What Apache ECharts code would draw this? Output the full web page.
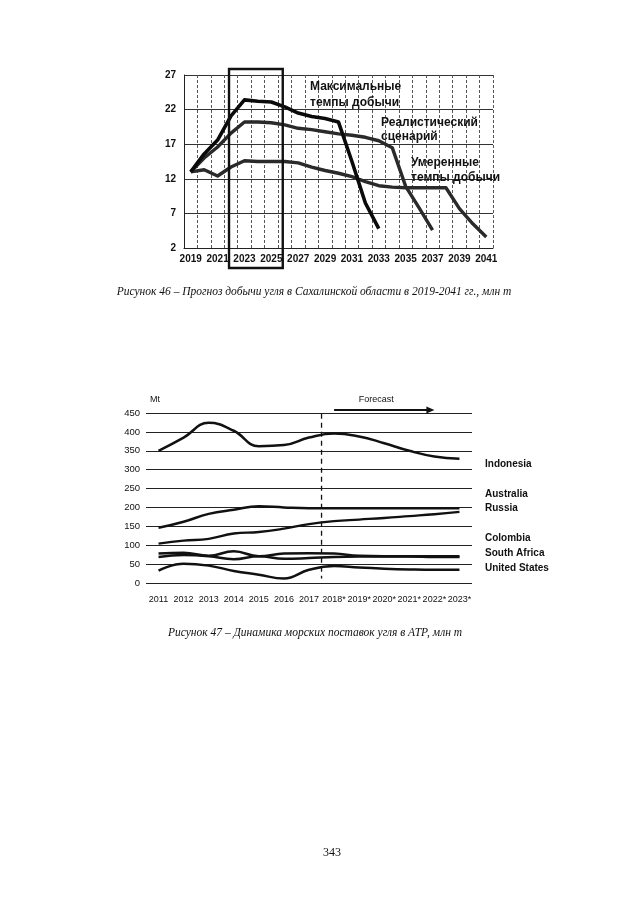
<!DOCTYPE html>
<html><head><meta charset="utf-8">
<script src="https://cdn.jsdelivr.net/npm/echarts@6/dist/echarts.min.js"></script>
<style>html,body{margin:0;padding:0;background:#fff}#c{width:630px;height:905px}</style>
</head><body><div id="c"></div>
<script>
// ---- Figure 46 data (Sakhalin coal output forecast, mln t)
const years1 = ['2019','2020','2021','2022','2023','2024','2025','2026','2027','2028','2029','2030','2031','2032','2033','2034','2035','2036','2037','2038','2039','2040','2041'];
const maxRate = [13.0,15.6,17.6,21.1,23.4,23.2,23.1,22.4,21.5,21.0,20.7,20.2,14.5,8.5,4.8];
const realistic = [13.0,15.0,16.6,18.6,20.2,20.2,20.1,19.8,19.3,19.1,18.8,18.5,18.3,18.0,17.5,16.5,10.9,7.8,4.6];
const moderate = [13.0,13.3,12.4,13.7,14.6,14.5,14.5,14.5,14.3,13.7,13.2,12.8,12.3,11.6,11.0,10.8,10.7,10.7,10.7,10.7,7.7,5.5,3.6];
const yTicks1 = [2,7,12,17,22,27];

// ---- Figure 47 data (seaborne coal supply to APR, Mt)
const years2 = ['2011','2012','2013','2014','2015','2016','2017','2018*','2019*','2020*','2021*','2022*','2023*'];
const indonesia = [350,385,424,403,362,365,385,396,388,370,350,335,329];
const australia = [146,162,183,194,203,200,198,198,198,198,198,198,198];
const russia = [104,112,117,131,135,144,156,164,168,172,177,182,188];
const southAfrica = [78,80,72,84,71,78,79,78,72,71,71,71,71];
const colombia = [69,74,71,63,71,64,66,69,70,70,70,69,69];
const usa = [33,51,46,32,22,12,35,45,41,38,36,35,35];
const names2 = ['Indonesia','Australia','Russia','Colombia','South Africa','United States'];

const chart = echarts.init(document.getElementById('c'), null, {renderer:'canvas'});
const sans = '"Liberation Sans", Arial, sans-serif';
const serif = '"Liberation Serif", "Times New Roman", serif';

const line1 = (name, data, color, w) => ({
  type:'line', name, data, xAxisIndex:0, yAxisIndex:0, symbol:'none',
  lineStyle:{color, width:w, join:'round'}, smooth:false, z:5
});
const line2 = (name, data, w) => ({
  type:'line', name, data, xAxisIndex:1, yAxisIndex:1, symbol:'none',
  lineStyle:{color:'#111', width:w}, smooth:0.45, z:5
});

chart.setOption({
  animation:false,
  backgroundColor:'#fff',
  grid:[
    {left:184, top:75, width:309, height:173},
    {left:146, top:413, width:326, height:170}
  ],
  xAxis:[
    {type:'category', gridIndex:0, data:years1, boundaryGap:true,
     axisLine:{show:true, lineStyle:{color:'#222', width:1}}, axisTick:{show:false},
     axisLabel:{interval:1, color:'#111', fontFamily:sans, fontWeight:'bold', fontSize:10, margin:6},
     splitLine:{show:true, interval:0, lineStyle:{color:'#555', width:1, type:[3,2]}}},
    {type:'category', gridIndex:1, data:years2, boundaryGap:true,
     axisLine:{show:false}, axisTick:{show:false},
     axisLabel:{interval:0, color:'#111', fontFamily:sans, fontSize:9, margin:12},
     splitLine:{show:false}}
  ],
  yAxis:[
    {type:'value', gridIndex:0, min:yTicks1[0], max:yTicks1[yTicks1.length-1], interval:5,
     axisLine:{show:true, lineStyle:{color:'#222', width:1}}, axisTick:{show:false},
     axisLabel:{color:'#111', fontFamily:sans, fontWeight:'bold', fontSize:10, margin:8},
     splitLine:{show:true, lineStyle:{color:'#333', width:1}}},
    {type:'value', gridIndex:1, min:0, max:450, interval:50,
     axisLine:{show:false}, axisTick:{show:false},
     axisLabel:{color:'#111', fontFamily:sans, fontSize:9.5, margin:6},
     splitLine:{show:true, lineStyle:{color:'#222', width:1}}}
  ],
  series:[
    line1('Умеренные темпы добычи', moderate, '#2a2a2a', 3.4),
    line1('Реалистический сценарий', realistic, '#2a2a2a', 3.4),
    line1('Максимальные темпы добычи', maxRate, '#0a0a0a', 3.6),
    line2(names2[0], indonesia, 2.5),
    line2(names2[1], australia, 2.5),
    line2(names2[2], russia, 2.3),
    line2(names2[3], colombia, 2.5),
    line2(names2[4], southAfrica, 2.5),
    line2(names2[5], usa, 2.5)
  ]
});

// annotations computed through the axes' scales
const p = (g, v) => chart.convertToPixel({gridIndex:g}, v);
const boxL = p(0, ['2022', 27])[0] - 2, boxR = p(0, ['2026', 27])[0] - 2;
const boxT = p(0, ['2022', 27])[1] - 6, boxB = p(0, ['2022', 2])[1] + 20;
const xa = p(1, ['2017', 0])[0], xb = p(1, ['2018*', 0])[0];
const dashX = (xa + xb) / 2;
const dashT = p(1, ['2017', 448])[1], dashB = p(1, ['2017', 12])[1];
const arS = p(1, ['2018*', 458]), arE = p(1, ['2022*', 458]);

const txt = (text, x, y, font, align) => ({type:'text', z:20, style:{text, x, y, font, fill:'#111', textAlign:align||'left', textVerticalAlign:'middle'}});
const lblFont1 = 'bold 12px ' + sans;
const lblFont2 = 'bold 10px ' + sans;

chart.setOption({graphic:[
  {type:'rect', z:15, shape:{x:boxL, y:boxT, width:boxR-boxL, height:boxB-boxT}, style:{fill:'none', stroke:'#111', lineWidth:2.4}},
  txt('Максимальные', 310, 87, lblFont1), txt('темпы добычи', 310, 103, lblFont1),
  txt('Реалистический', 381, 123, lblFont1), txt('сценарий', 381, 137, lblFont1),
  txt('Умеренные', 411, 163, lblFont1), txt('темпы добычи', 411, 178, lblFont1),
  txt('Рисунок 46 – Прогноз добычи угля в Сахалинской области в 2019-2041 гг., млн т', 314, 292, 'italic 11.5px ' + serif, 'center'),
  {type:'line', z:15, shape:{x1:dashX, y1:dashT, x2:dashX, y2:dashB}, style:{stroke:'#111', lineWidth:1.3, lineDash:[5,4]}},
  {type:'line', z:15, shape:{x1:arS[0], y1:arS[1], x2:arE[0]-6, y2:arE[1]}, style:{stroke:'#111', lineWidth:2}},
  {type:'polygon', z:15, shape:{points:[[arE[0], arE[1]], [arE[0]-8, arE[1]-3.5], [arE[0]-8, arE[1]+3.5]]}, style:{fill:'#111'}},
  txt('Forecast', (arS[0]+arE[0])/2 - 8, arS[1] - 10, '9px ' + sans, 'center'),
  txt('Mt', 150, 400, '9px ' + sans),
  txt(names2[0], 485, 464, lblFont2), txt(names2[1], 485, 494, lblFont2), txt(names2[2], 485, 508, lblFont2),
  txt(names2[3], 485, 538, lblFont2), txt(names2[4], 485, 553, lblFont2), txt(names2[5], 485, 568, lblFont2),
  txt('Рисунок 47 – Динамика морских поставок угля в АТР, млн т', 315, 633, 'italic 11.5px ' + serif, 'center'),
  txt('343', 332, 853, '12px ' + serif, 'center')
]});
</script></body></html>
